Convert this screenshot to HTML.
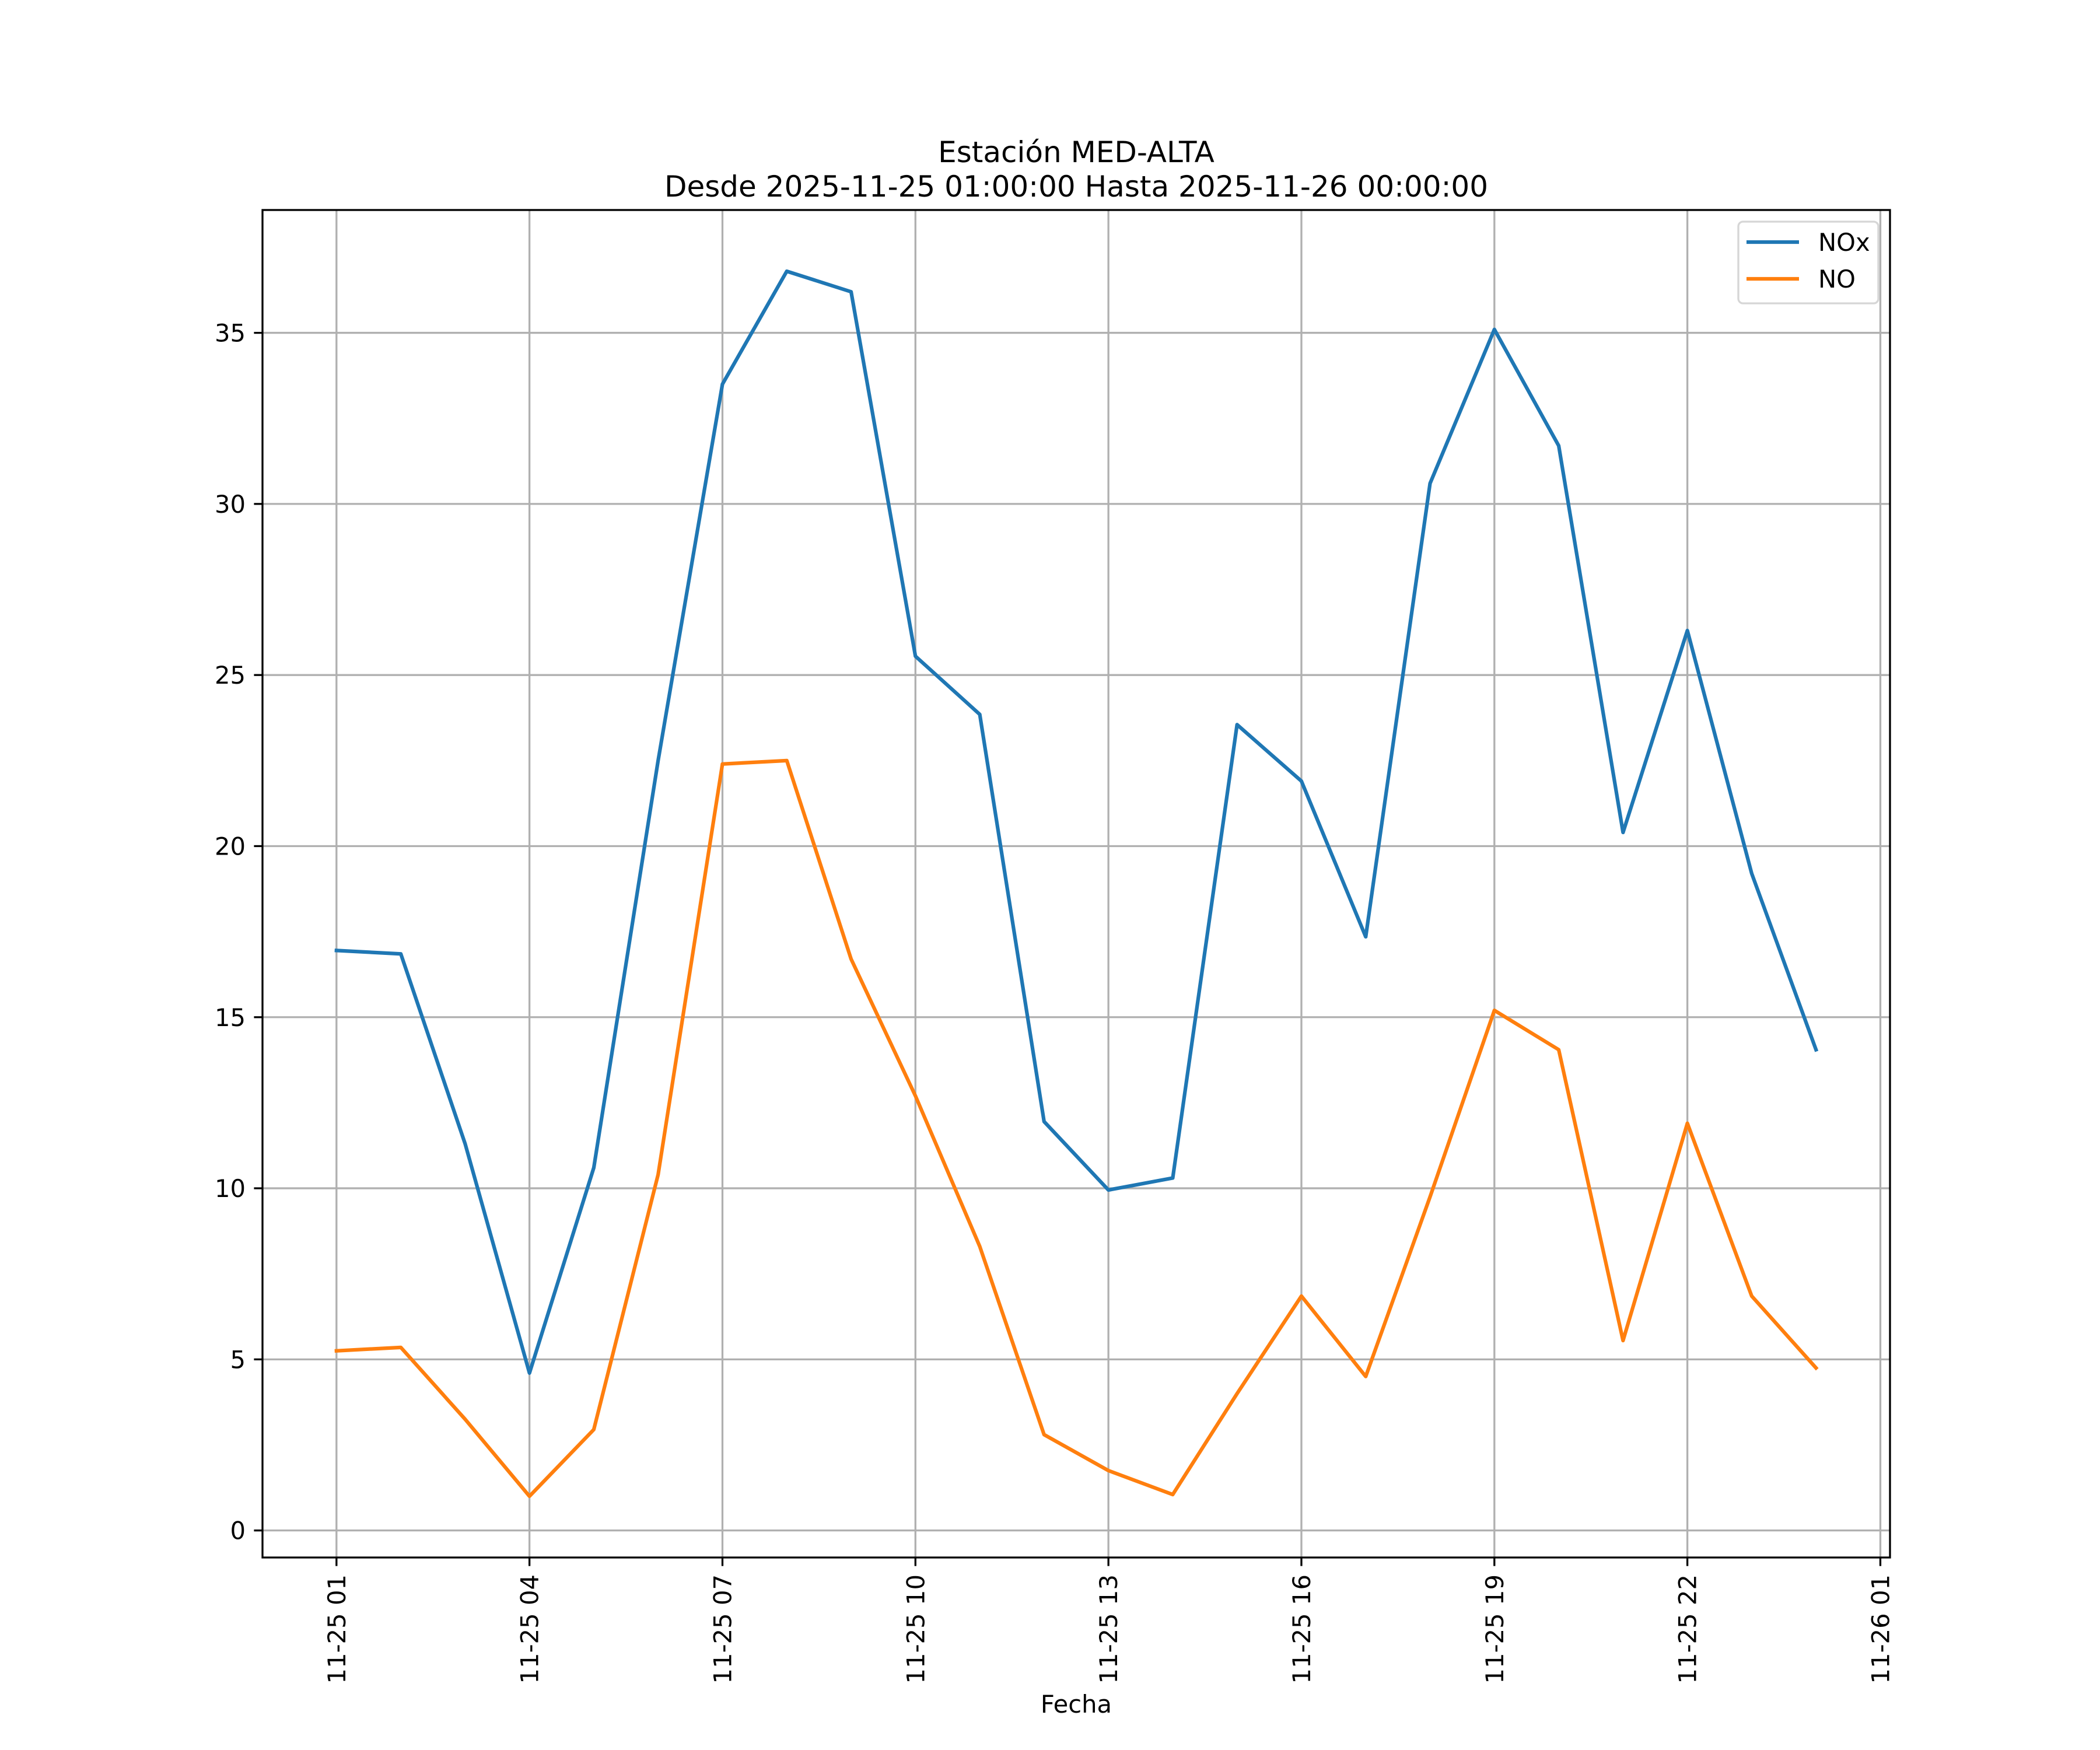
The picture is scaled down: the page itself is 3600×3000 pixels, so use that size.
<!DOCTYPE html>
<html><head><meta charset="utf-8"><style>
html,body{margin:0;padding:0;background:#fff;}
svg{display:block;font-family:"DejaVu Sans","Liberation Sans",sans-serif;}
</style></head><body>
<svg id="chart" width="3600" height="3000" viewBox="0 0 3600 3000" xmlns="http://www.w3.org/2000/svg">
<rect x="0" y="0" width="3600" height="3000" fill="#fff"/>
<text x="1845" y="278" font-size="50" text-anchor="middle">Estación MED-ALTA</text>
<text x="1845" y="337" font-size="50" text-anchor="middle">Desde 2025-11-25 01:00:00 Hasta 2025-11-26 00:00:00</text>
<g id="grid"></g>
<g id="series"></g>
<g id="axes"></g>
<text x="1845" y="2936" font-size="41.7" text-anchor="middle">Fecha</text>
<g>
<rect x="2980" y="380" width="240" height="140" rx="8" fill="#fff" fill-opacity="0.8" stroke="#d6d6d6" stroke-width="3.3"/>
<line x1="2994" y1="415" x2="3084" y2="415" stroke="#1f77b4" stroke-width="6.25"/>
<text x="3117" y="430" font-size="41.7">NOx</text>
<line x1="2994" y1="478" x2="3084" y2="478" stroke="#ff7f0e" stroke-width="6.25"/>
<text x="3117" y="493" font-size="41.7">NO</text>
</g>
</svg>
<script>
const hours = [1,2,3,4,5,6,7,8,9,10,11,12,13,14,15,16,17,18,19,20,21,22,23,24];
const noxValues = [16.95,16.85,11.3,4.6,10.6,22.5,33.5,36.8,36.2,25.55,23.85,11.95,9.95,10.3,23.55,21.9,17.35,30.6,35.1,31.7,20.4,26.3,19.2,14.05];
const noValues = [5.25,5.35,3.25,1.0,2.95,10.4,22.4,22.5,16.7,12.7,8.3,2.8,1.75,1.05,4.0,6.85,4.5,9.75,15.2,14.05,5.55,11.9,6.85,4.75];
const xTickHours = [1,4,7,10,13,16,19,22,25];
const xTickLabels = ["11-25 01","11-25 04","11-25 07","11-25 10","11-25 13","11-25 16","11-25 19","11-25 22","11-26 01"];
const yTickValues = [0,5,10,15,20,25,30,35];

const NS="http://www.w3.org/2000/svg";
const L=450,R=3240,T=360,B=2670;
const xmin0=Math.min(...hours),xmax0=Math.max(...hours);
const xm=(xmax0-xmin0)*0.05, xlo=xmin0-xm, xhi=xmax0+xm;
const all=noxValues.concat(noValues);
const ymin0=Math.min(...all),ymax0=Math.max(...all);
const ym=(ymax0-ymin0)*0.05, ylo=ymin0-ym, yhi=ymax0+ym;
function xs(h){return L+(h-xlo)/(xhi-xlo)*(R-L);}
function ys(v){return B-(v-ylo)/(yhi-ylo)*(B-T);}
function mk(tag,attrs,parent){const e=document.createElementNS(NS,tag);for(const k in attrs)e.setAttribute(k,attrs[k]);parent.appendChild(e);return e;}
const grid=document.getElementById('grid'),axes=document.getElementById('axes'),series=document.getElementById('series');
xTickHours.forEach((h,i)=>{
  const x=xs(h);
  const g=mk('line',{x1:x,y1:T,x2:x,y2:B,stroke:'#b0b0b0','stroke-width':3.3},grid);
  
  
  const t=mk('line',{x1:x,y1:B,x2:x,y2:B+14.6,stroke:'#000','stroke-width':3.3},axes);
  
  
  const lb=mk('text',{x:0,y:0,'font-size':41.7,'text-anchor':'end',transform:`translate(${x+15},${B+29}) rotate(-90)`},axes);
  lb.textContent=xTickLabels[i];
  
  
});
yTickValues.forEach(v=>{
  const y=ys(v);
  const g=mk('line',{x1:L,y1:y,x2:R,y2:y,stroke:'#b0b0b0','stroke-width':3.3},grid);
  
  
  const t=mk('line',{x1:L-14.6,y1:y,x2:L,y2:y,stroke:'#000','stroke-width':3.3},axes);
  
  
  const lb=mk('text',{x:L-29,y:y+15,'font-size':41.7,'text-anchor':'end'},axes);
  lb.textContent=String(v);
  
  
});
const frame=mk('rect',{x:L,y:T,width:R-L,height:B-T,fill:'none',stroke:'#000','stroke-width':3.3},axes);


function line(vals,color,name){
  const pts=vals.map((v,i)=>xs(hours[i])+','+ys(v)).join(' ');
  const p=mk('polyline',{points:pts,fill:'none',stroke:color,'stroke-width':6.25,'stroke-linejoin':'round','stroke-linecap':'square'},series);
  
  
}
line(noxValues,'#1f77b4','nox-line');
line(noValues,'#ff7f0e','no-line');
</script>
</body></html>
